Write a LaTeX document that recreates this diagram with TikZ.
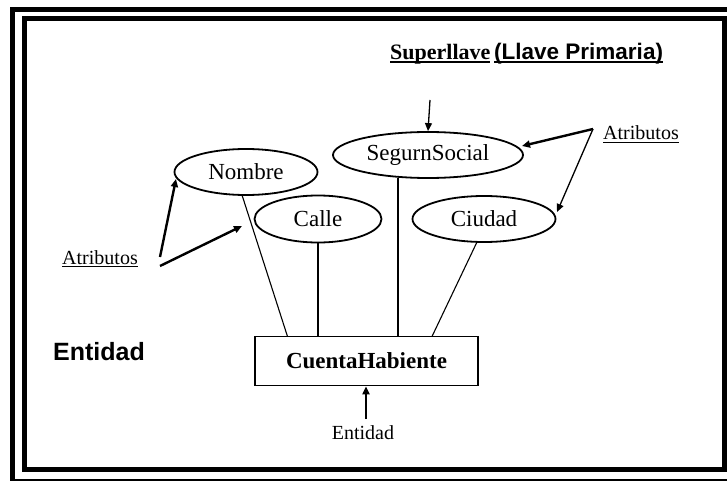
\documentclass[tikz,border=0pt]{standalone}
\usepackage{fontspec}
\setmainfont{Liberation Serif}
\newfontfamily\headsans{Liberation Sans}
\usetikzlibrary{shapes.geometric,arrows.meta}

% underline with a heavier rule than \underline gives
\newcommand{\thickul}[2][1.8pt]{\setbox0\hbox{#2}\rlap{\rule[-3.2pt]{\wd0}{#1}}\box0}

\tikzset{
  attr/.style={ellipse, draw, line width=1.8pt, inner sep=0pt,
               font=\fontsize{23}{25}\selectfont},
  entbox/.style={rectangle, draw, line width=1.8pt, inner sep=0pt,
               minimum width=223pt, minimum height=49pt,
               font=\fontsize{23}{25}\selectfont\bfseries},
  link/.style={line width=1.1pt},
  linkbold/.style={line width=1.8pt},
  pointer/.style={-{Triangle[length=8pt,width=7pt]}, line width=2.4pt},
  thinpointer/.style={-{Triangle[length=8pt,width=7pt]}, line width=1.3pt},
  lbl/.style={inner sep=0pt, font=\fontsize{20}{22}\selectfont},
}

\begin{document}
\begin{tikzpicture}[x=1pt,y=-1pt]
\useasboundingbox (0,0) rectangle (727,481);
\fill[white] (0,0) rectangle (727,481);

% double frame
\draw[line width=4.5pt] (730,9.5) -- (12.5,9.5) -- (12.5,485);
\draw[line width=2pt] (12.5,480) -- (730,480);
\draw[line width=5pt] (24.5,19) rectangle (724.5,469.5);

% attribute ellipses
\node[attr, minimum width=190pt, minimum height=46pt] (seg) at (428,155) {SegurnSocial};
\node[attr, minimum width=143pt, minimum height=46pt] (nom) at (246,172) {Nombre};
\node[attr, minimum width=127pt, minimum height=47pt] (cal) at (318,219) {Calle};
\node[attr, minimum width=143pt, minimum height=46pt] (ciu) at (484,219) {Ciudad};

% entity box
\node[entbox] (cta) at (366.5,361) {CuentaHabiente};

% connectors from attributes to the entity
\coordinate (nomB) at (242,195);
\coordinate (calB) at (318,242.5);
\coordinate (segB) at (398,178);
\coordinate (ciuB) at (477,242);
\coordinate (ctaA) at (287.5,336.5);
\coordinate (ctaB) at (318,336.5);
\coordinate (ctaC) at (398,336.5);
\coordinate (ctaD) at (432,336.5);
\draw[link] (nomB) -- (ctaA);
\draw[linkbold] (calB) -- (ctaB);
\draw[linkbold] (segB) -- (ctaC);
\draw[link] (ciuB) -- (ctaD);

% headline
\node[lbl, anchor=base west] (sup) at (390,60)
  {\fontsize{22}{24}\selectfont\bfseries\thickul{Superllave}};
\node[lbl, anchor=base west] (pk) at (494,60)
  {\headsans\fontsize{22.5}{24}\selectfont\bfseries\thickul{(Llave Primaria)}};
\coordinate (supArrow) at (430,100);
\draw[thinpointer] (supArrow) -- (seg.north);

% left attribute labels
\node[lbl, anchor=base] (attL) at (100,264) {\thickul[1.6pt]{Atributos}};
\coordinate (attLa) at (160,257);
\coordinate (attLb) at (160,266);
\coordinate (nomTip) at (176,179);
\coordinate (calTip) at (242,226);
\draw[pointer] (attLa) -- (nomTip);
\draw[pointer] (attLb) -- (calTip);

% right attribute labels
\node[lbl, anchor=base] (attR) at (641,140) {\thickul[1.6pt]{Atributos}};
\coordinate (attRa) at (593,129);
\coordinate (segTip) at (522,146);
\coordinate (ciuTip) at (557,212);
\draw[pointer] (attRa) -- (segTip);
\draw[thinpointer] (attRa) -- (ciuTip);

% entity labels
\node[lbl, anchor=base] (entB) at (363,439) {Entidad};
\coordinate (entFoot) at (366,419);
\draw[pointer] (entFoot) -- (cta.south -| entFoot);
\node[inner sep=0pt, anchor=west, font=\headsans\fontsize{25}{27}\selectfont\bfseries] (entL) at (53,352) {Entidad};
\end{tikzpicture}
\end{document}
